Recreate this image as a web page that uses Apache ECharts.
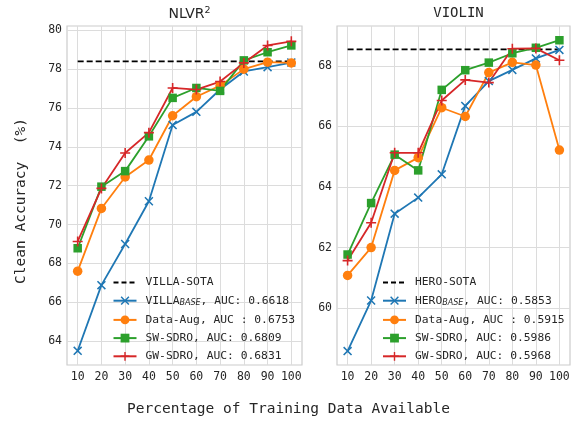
<!DOCTYPE html>
<html><head><meta charset="utf-8">
<script src="https://cdn.jsdelivr.net/npm/echarts@6/dist/echarts.min.js"></script>
<style>html,body{margin:0;padding:0;background:#fff}#c{width:577px;height:428px}</style>
</head><body><div id="c"></div>
<script>
// ---------- data ----------
const xValues = [10, 20, 30, 40, 50, 60, 70, 80, 90, 100];
const nlvrTicks = [64, 66, 68, 70, 72, 74, 76, 78, 80];
const violinTicks = [60, 62, 64, 66, 68];

const nlvrSota = 78.4;
const nlvrBase   = [63.5, 66.88, 69.0, 71.2, 75.12, 75.8, 76.95, 77.88, 78.1, 78.34];
const nlvrAug    = [67.6, 70.83, 72.45, 73.32, 75.6, 76.58, 77.15, 78.0, 78.36, 78.32];
const nlvrSW     = [68.78, 71.95, 72.75, 74.54, 76.52, 77.03, 76.88, 78.45, 78.87, 79.22];
const nlvrGW     = [69.13, 71.86, 73.68, 74.73, 77.03, 76.95, 77.36, 78.32, 79.22, 79.43];

const violinSota = 68.55;
const violinBase = [58.58, 60.25, 63.12, 63.65, 64.42, 66.68, 67.5, 67.87, 68.25, 68.53];
const violinAug  = [61.08, 62.0, 64.55, 64.97, 66.62, 66.33, 67.78, 68.12, 68.03, 65.22];
const violinSW   = [61.77, 63.47, 65.07, 64.55, 67.21, 67.86, 68.11, 68.42, 68.6, 68.85];
const violinGW   = [61.57, 62.82, 65.13, 65.13, 66.86, 67.54, 67.45, 68.57, 68.58, 68.19];

const nlvrNames = ['VILLA-SOTA', 'VILLA_BASE, AUC: 0.6618', 'Data-Aug, AUC : 0.6753', 'SW-SDRO, AUC: 0.6809', 'GW-SDRO, AUC: 0.6831'];
const violinNames = ['HERO-SOTA', 'HERO_BASE, AUC: 0.5853', 'Data-Aug, AUC : 0.5915', 'SW-SDRO, AUC: 0.5986', 'GW-SDRO, AUC: 0.5968'];

// ---------- styling ----------
const MONO = 'DejaVu Sans Mono';
const TXT = '#262626';
const GRIDC = '#dcdcdc';
const C = { blue: '#1f77b4', orange: '#ff7f0e', green: '#2ca02c', red: '#d62728' };
const XSYM = 'path://M0,1.2L1.2,0L5,3.8L8.8,0L10,1.2L6.2,5L10,8.8L8.8,10L5,6.2L1.2,10L0,8.8L3.8,5Z';
const PSYM = 'path://M4.2,0H5.8V4.2H10V5.8H5.8V10H4.2V5.8H0V4.2H4.2Z';

const pairs = (ys) => xValues.map((x, i) => [x, ys[i]]);

function lineSeries(name, ys, color, symbol, size, gi) {
  return {
    type: 'line', name, data: pairs(ys), xAxisIndex: gi, yAxisIndex: gi,
    symbol, symbolSize: size, showSymbol: true,
    lineStyle: { color, width: 1.8 }, itemStyle: { color },
    emphasis: { disabled: true }, animation: false, z: 3
  };
}
function sotaSeries(name, y, gi) {
  return {
    type: 'line', name, data: [[10, y], [100, y]], xAxisIndex: gi, yAxisIndex: gi,
    symbol: 'none', lineStyle: { color: '#000', width: 1.8, type: [6, 3] },
    itemStyle: { color: '#000' }, emphasis: { disabled: true }, animation: false, z: 2
  };
}

const xAxisBase = (gi) => ({
  type: 'value', gridIndex: gi, min: 5.5, max: 104.5,
  axisLine: { show: false }, axisTick: { show: false, customValues: xValues },
  axisLabel: { customValues: xValues, fontFamily: MONO, fontSize: 11.5, color: TXT, margin: 6 },
  splitLine: { show: true, lineStyle: { color: GRIDC, width: 1 } }
});
const yAxisBase = (gi, min, max, ticks) => ({
  type: 'value', gridIndex: gi, min, max,
  axisLine: { show: false }, axisTick: { show: false, customValues: ticks },
  axisLabel: { customValues: ticks, fontFamily: MONO, fontSize: 11.5, color: TXT, margin: 5 },
  splitLine: { show: true, lineStyle: { color: GRIDC, width: 1 } }
});

const legendBase = (names, left) => ({
  data: names.map((n, i) => i === 0
    ? { name: n, itemStyle: { color: 'rgba(0,0,0,0)', opacity: 0 }, lineStyle: { type: [5, 3] } }
    : { name: n }),
  left, top: 272, orient: 'vertical',
  itemWidth: 23, itemHeight: 11, itemGap: 7.2,
  textStyle: {
    fontFamily: MONO, fontSize: 11.3, color: TXT, padding: [0, 0, 0, 4],
    rich: { sub: { fontFamily: 'DejaVu Sans', fontStyle: 'italic', fontSize: 8, color: TXT, verticalAlign: 'bottom', padding: [5, 0, 0, 0] } }
  },
  formatter: (n) => n.replace('_BASE', '{sub|BASE}'),
  selectedMode: false
});

const option = {
  backgroundColor: '#fff',
  animation: false,
  title: [
    { text: 'NLVR{sup|2}', left: 184.5, top: 1, textAlign: 'center',
      textStyle: { fontFamily: 'DejaVu Sans', fontSize: 14, fontWeight: 'normal', color: TXT,
        rich: { sup: { fontFamily: 'DejaVu Sans', fontSize: 9.5, color: TXT, verticalAlign: 'top', padding: [0, 0, 6, 0] } } } },
    { text: 'VIOLIN', left: 453.5, top: 1, textAlign: 'center',
      textStyle: { fontFamily: MONO, fontSize: 14, fontWeight: 'normal', color: TXT } }
  ],
  grid: [
    { left: 67, top: 26, width: 235, height: 339, show: true, borderColor: '#cccccc', borderWidth: 1.2, backgroundColor: '#fff', containLabel: false },
    { left: 337, top: 26, width: 233, height: 339, show: true, borderColor: '#cccccc', borderWidth: 1.2, backgroundColor: '#fff', containLabel: false }
  ],
  xAxis: [xAxisBase(0), xAxisBase(1)],
  yAxis: [yAxisBase(0, 62.77, 80.22, nlvrTicks), yAxisBase(1, 58.12, 69.32, violinTicks)],
  legend: [legendBase(nlvrNames, 107.5), legendBase(violinNames, 377)],
  graphic: [
    { type: 'text', left: 'center', top: 402, style: { text: 'Percentage of Training Data Available', fontFamily: MONO, fontSize: 14.5, fill: TXT } },
    { type: 'text', x: 21, y: 201, rotation: Math.PI / 2, style: { text: 'Clean Accuracy  (%)', fontFamily: MONO, fontSize: 14.5, fill: TXT, align: 'center', verticalAlign: 'middle' } }
  ],
  series: [
    sotaSeries(nlvrNames[0], nlvrSota, 0),
    lineSeries(nlvrNames[1], nlvrBase, C.blue, XSYM, 9, 0),
    lineSeries(nlvrNames[2], nlvrAug, C.orange, 'circle', 9.5, 0),
    lineSeries(nlvrNames[3], nlvrSW, C.green, 'rect', 8.5, 0),
    lineSeries(nlvrNames[4], nlvrGW, C.red, PSYM, 10, 0),
    sotaSeries(violinNames[0], violinSota, 1),
    lineSeries(violinNames[1], violinBase, C.blue, XSYM, 9, 1),
    lineSeries(violinNames[2], violinAug, C.orange, 'circle', 9.5, 1),
    lineSeries(violinNames[3], violinSW, C.green, 'rect', 8.5, 1),
    lineSeries(violinNames[4], violinGW, C.red, PSYM, 10, 1)
  ]
};
const chart = echarts.init(document.getElementById('c'), null, { renderer: 'canvas' });
chart.setOption(option);
</script>
</body></html>
